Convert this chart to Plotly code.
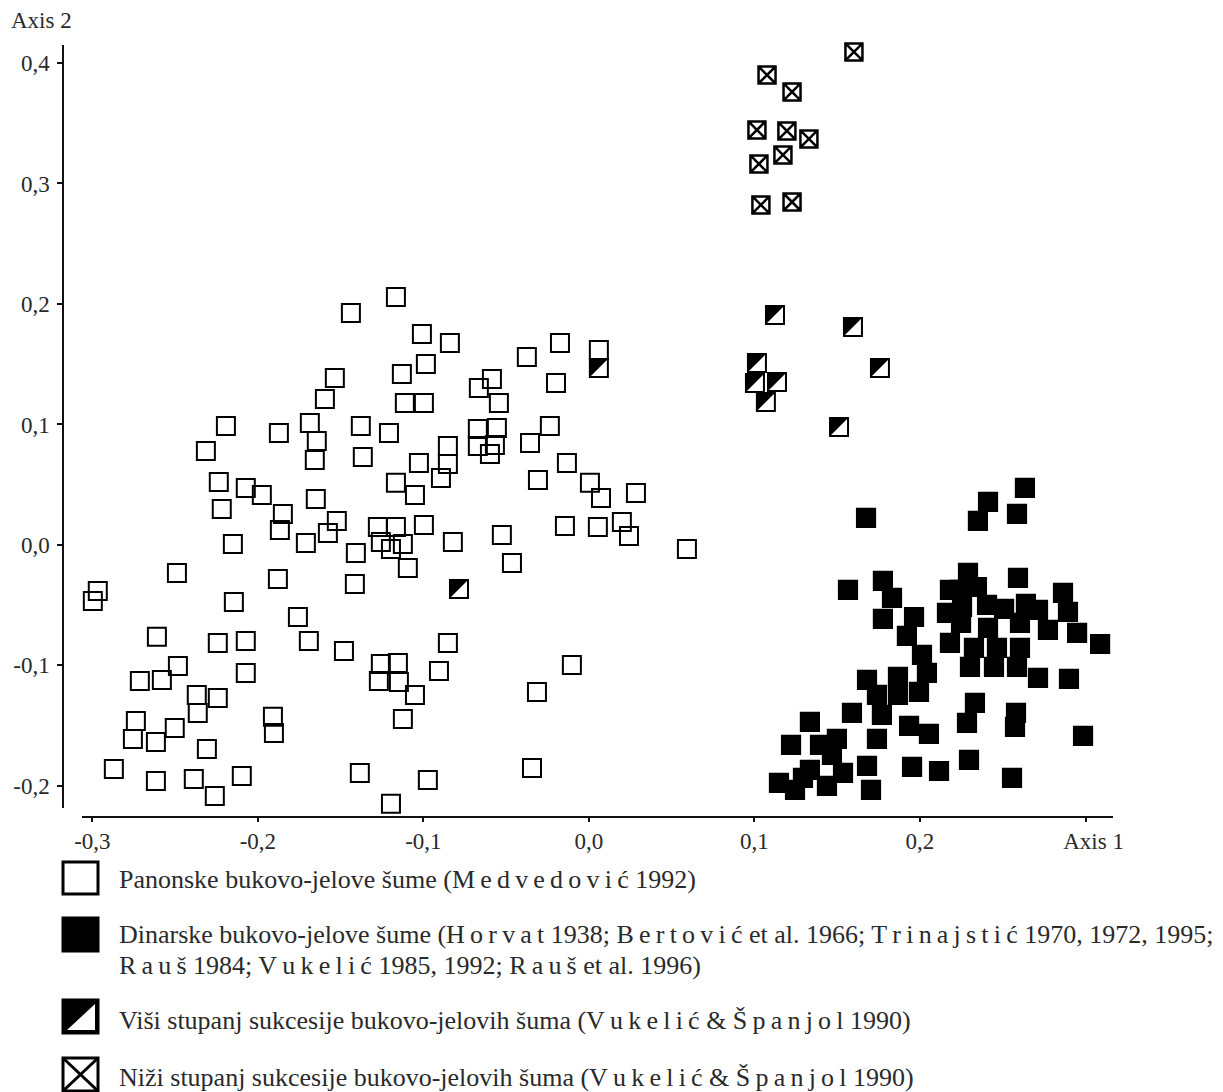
import plotly.graph_objects as go

# ---------------- data ----------------
panon_x = [-0.1166, -0.1438, -0.1009, -0.0840, -0.0985, -0.1130, -0.1535, -0.1595, -0.1112, -0.0997,
           -0.1686, -0.1378, -0.1208, -0.1644, -0.1656, -0.1366, -0.0852, -0.0852, -0.1027, -0.0894,
           -0.1166, -0.1051, -0.1650, -0.1523, -0.1577, -0.1710, -0.1408, -0.1275, -0.1166, -0.1257,
           -0.1124, -0.1196, -0.0997, -0.0822, -0.1094, -0.0526, -0.0465, -0.0665, -0.0586, -0.0544,
           -0.0671, -0.0556, -0.0671, -0.0568, -0.0598, -0.0375, -0.0175, -0.0199, 0.0060, -0.0236,
           -0.0356, -0.0133, -0.0308, 0.0006, 0.0073, 0.0284, -0.0145, 0.0054, 0.0199, 0.0242,
           0.0592, -0.2193, -0.2314, -0.1873, -0.2236, -0.2073, -0.1976, -0.2218, -0.1849, -0.1867,
           -0.2151, -0.2489, -0.2967, -0.2997, -0.2145, -0.1879, -0.1414, -0.1758, -0.2610, -0.2242,
           -0.2073, -0.1692, -0.1480, -0.2483, -0.2713, -0.2580, -0.2073, -0.2369, -0.2242, -0.2363,
           -0.2737, -0.2755, -0.2502, -0.2616, -0.1909, -0.1903, -0.2308, -0.2870, -0.2616, -0.2387,
           -0.2260, -0.2097, -0.1384, -0.1196, -0.1257, -0.1154, -0.1269, -0.1148, -0.1051, -0.0906,
           -0.0852, -0.1124, -0.0103, -0.0314, -0.0973, -0.0344]
panon_y = [0.2058, 0.1925, 0.1751, 0.1676, 0.1502, 0.1419, 0.1386, 0.1212, 0.1178, 0.1178,
           0.1012, 0.0988, 0.0929, 0.0863, 0.0705, 0.0730, 0.0822, 0.0672, 0.0680, 0.0556,
           0.0515, 0.0415, 0.0382, 0.0199, 0.0100, 0.0017, -0.0066, 0.0149, 0.0149, 0.0025,
           0.0008, -0.0033, 0.0166, 0.0025, -0.0191, 0.0083, -0.0149, 0.1303, 0.1378, 0.1178,
           0.0963, 0.0971, 0.0822, 0.0830, 0.0755, 0.1560, 0.1676, 0.1344, 0.1618, 0.0988,
           0.0846, 0.0680, 0.0539, 0.0515, 0.0390, 0.0432, 0.0158, 0.0149, 0.0191, 0.0075,
           -0.0033, 0.0988, 0.0780, 0.0929, 0.0523, 0.0473, 0.0415, 0.0299, 0.0257, 0.0124,
           0.0008, -0.0232, -0.0382, -0.0465, -0.0473, -0.0282, -0.0324, -0.0598, -0.0763, -0.0813,
           -0.0797, -0.0797, -0.0880, -0.1004, -0.1129, -0.1120, -0.1062, -0.1245, -0.1270, -0.1394,
           -0.1461, -0.1610, -0.1519, -0.1635, -0.1427, -0.1560, -0.1693, -0.1859, -0.1959, -0.1942,
           -0.2083, -0.1917, -0.1892, -0.2149, -0.0988, -0.0979, -0.1129, -0.1137, -0.1245, -0.1046,
           -0.0813, -0.1444, -0.0996, -0.1220, -0.1950, -0.1851]

dinar_x = [0.2634, 0.2411, 0.2350, 0.2586, 0.1674, 0.1565, 0.1776, 0.1831, 0.1776, 0.1964,
           0.1921, 0.2012, 0.2042, 0.1680, 0.1867, 0.1740, 0.1867, 0.1994, 0.1589, 0.1770,
           0.1335, 0.1934, 0.2054, 0.1221, 0.1396, 0.1498, 0.1740, 0.1468, 0.1680, 0.1335,
           0.1293, 0.1535, 0.1148, 0.1438, 0.1245, 0.1704, 0.1952, 0.2115, 0.2296, 0.2284,
           0.2332, 0.2580, 0.2574, 0.2556, 0.2985, 0.2713, 0.2900, 0.2290, 0.2181, 0.2242,
           0.2344, 0.2163, 0.2254, 0.2248, 0.2405, 0.2508, 0.2592, 0.2640, 0.2713, 0.2604,
           0.2411, 0.2773, 0.2864, 0.2894, 0.2949, 0.3088, 0.2181, 0.2326, 0.2465, 0.2604,
           0.2302, 0.2447, 0.2586]
dinar_y = [0.0473, 0.0357, 0.0199, 0.0257, 0.0224, -0.0373, -0.0299, -0.0440, -0.0614, -0.0598,
           -0.0755, -0.0913, -0.1062, -0.1120, -0.1095, -0.1245, -0.1245, -0.1220, -0.1394, -0.1411,
           -0.1469, -0.1502, -0.1568, -0.1660, -0.1660, -0.1610, -0.1610, -0.1743, -0.1834, -0.1867,
           -0.1934, -0.1892, -0.1975, -0.2000, -0.2033, -0.2033, -0.1842, -0.1876, -0.1784, -0.1477,
           -0.1311, -0.1394, -0.1510, -0.1934, -0.1585, -0.1104, -0.1112, -0.0232, -0.0373, -0.0373,
           -0.0349, -0.0564, -0.0515, -0.0647, -0.0498, -0.0531, -0.0274, -0.0490, -0.0539, -0.0647,
           -0.0689, -0.0705, -0.0398, -0.0556, -0.0730, -0.0822, -0.0813, -0.0855, -0.0855, -0.0855,
           -0.1012, -0.1012, -0.1012]

visi_x = [0.1124, 0.1595, 0.1015, 0.1758, 0.1003, 0.1136, 0.1069, 0.1511, 0.0060, -0.0785]
visi_y = [0.1909, 0.1809, 0.1510, 0.1469, 0.1344, 0.1353, 0.1187, 0.0979, 0.1469, -0.0365]

nizi_x = [0.1601, 0.1076, 0.1227, 0.1015, 0.1196, 0.1329, 0.1172, 0.1027, 0.1039, 0.1227]
nizi_y = [0.4091, 0.3900, 0.3759, 0.3444, 0.3436, 0.3369, 0.3237, 0.3162, 0.2822, 0.2846]

x_tick_vals = [-0.3, -0.2, -0.1, 0.0, 0.1, 0.2, 0.3]
x_tick_text = ["-0,3", "-0,2", "-0,1", "0,0", "0,1", "0,2", "\u2002\u2009Axis 1"]
y_tick_vals = [-0.2, -0.1, 0.0, 0.1, 0.2, 0.3, 0.4]
y_tick_text = ["-0,2", "-0,1", "0,0", "0,1", "0,2", "0,3", "0,4"]

def spaced(word):
    return "\u2009".join(word)

legend_texts = [
    "Panonske bukovo-jelove šume (" + spaced("Medvedović") + " 1992)",
    "Dinarske bukovo-jelove šume (" + spaced("Horvat") + " 1938; " + spaced("Bertović")
    + " et al. 1966; " + spaced("Trinajstić") + " 1970, 1972, 1995;",
    spaced("Rauš") + " 1984; " + spaced("Vukelić") + " 1985, 1992; " + spaced("Rauš") + " et al. 1996)",
    "Viši stupanj sukcesije bukovo-jelovih šuma (" + spaced("Vukelić") + " & " + spaced("Španjol") + " 1990)",
    "Niži stupanj sukcesije bukovo-jelovih šuma (" + spaced("Vukelić") + " & " + spaced("Španjol") + " 1990)",
]

# ---------------- geometry / style ----------------
OFF = 8                      # page body margin of the browser
FIG_W, FIG_H = 1223 - OFF, 1092 - OFF
M_L, M_R, M_T, M_B = 63 - OFF, 110, 45 - OFF, 275
PLOT_W = FIG_W - M_L - M_R
PLOT_H = FIG_H - M_T - M_B
X_DOMAIN = [0.018, 1.0]
Y_DOMAIN = [0.0117, 1.0]
X_RANGE = [-0.3063, 0.3166]
Y_RANGE = [-0.2183, 0.4149]
X_PER_PX = (X_RANGE[1] - X_RANGE[0]) / (PLOT_W * (X_DOMAIN[1] - X_DOMAIN[0]))
Y_PER_PX = (Y_RANGE[1] - Y_RANGE[0]) / (PLOT_H * (Y_DOMAIN[1] - Y_DOMAIN[0]))

FONT = "Liberation Serif"
TXT = "#2a2a2a"
SQ = 18        # square marker path size (px)
LW = 2         # outline width

def px_x(p):
    """page pixel (reference) -> paper x"""
    return (p - OFF - M_L) / PLOT_W

def px_y(p):
    """page pixel (reference) -> paper y"""
    return (FIG_H - M_B - (p - OFF)) / PLOT_H

fig = go.Figure()

fig.add_trace(go.Scatter(x=panon_x, y=panon_y, mode="markers", name="Panonske", cliponaxis=False,
                         marker=dict(symbol="square", size=SQ, color="rgba(0,0,0,0)",
                                     line=dict(color="black", width=LW))))
fig.add_trace(go.Scatter(x=dinar_x, y=dinar_y, mode="markers", name="Dinarske", cliponaxis=False,
                         marker=dict(symbol="square", size=19, color="black",
                                     line=dict(color="black", width=1.2))))
fig.add_trace(go.Scatter(x=nizi_x, y=nizi_y, mode="markers", name="Niži", cliponaxis=False,
                         marker=dict(symbol="square-x-open", size=17, color="black",
                                     line=dict(color="black", width=2.5))))
# half-filled squares: white square + black upper-left triangle
fig.add_trace(go.Scatter(x=visi_x, y=visi_y, mode="markers", name="Viši", cliponaxis=False,
                         marker=dict(symbol="square", size=SQ, color="white",
                                     line=dict(color="black", width=LW))))
tri_dx = -(SQ / 2 - 0.6 * SQ / 1.8) * X_PER_PX
tri_dy = (SQ / 2 - 0.6 * SQ / 1.8) * Y_PER_PX
fig.add_trace(go.Scatter(x=[v + tri_dx for v in visi_x], y=[v + tri_dy for v in visi_y],
                         mode="markers", name="Viši (fill)", cliponaxis=False,
                         marker=dict(symbol="triangle-nw", size=SQ / 0.9, color="black",
                                     line=dict(width=0))))

# ---------------- legend (drawn below the plot) ----------------
shapes = []
keys = [(862, 894), (918, 951), (1000, 1033), (1058, 1091)]
kx0, kx1 = px_x(63), px_x(98)
for i, (t, b) in enumerate(keys):
    y0, y1 = px_y(b), px_y(t)
    if i == 0:
        shapes.append(dict(type="rect", xref="paper", yref="paper", x0=kx0, x1=kx1, y0=y0, y1=y1,
                           line=dict(color="black", width=3), fillcolor="white"))
    elif i == 1:
        shapes.append(dict(type="rect", xref="paper", yref="paper", x0=kx0, x1=kx1, y0=y0, y1=y1,
                           line=dict(color="black", width=3), fillcolor="black"))
    elif i == 2:
        shapes.append(dict(type="rect", xref="paper", yref="paper", x0=kx0, x1=kx1, y0=y0, y1=y1,
                           line=dict(color="black", width=3), fillcolor="black"))
        ax0, ax1 = px_x(67), px_x(95)
        ay0, ay1 = px_y(b - 3), px_y(t + 4)
        shapes.append(dict(type="path", xref="paper", yref="paper",
                           path=f"M {ax0},{ay0} L {ax1},{ay0} L {ax1},{ay1} Z",
                           line=dict(width=0), fillcolor="white"))
    else:
        shapes.append(dict(type="rect", xref="paper", yref="paper", x0=kx0, x1=kx1, y0=y0, y1=y1,
                           line=dict(color="black", width=3), fillcolor="white"))
        shapes.append(dict(type="line", xref="paper", yref="paper", x0=kx0, x1=kx1, y0=y0, y1=y1,
                           line=dict(color="black", width=3)))
        shapes.append(dict(type="line", xref="paper", yref="paper", x0=kx0, x1=kx1, y0=y1, y1=y0,
                           line=dict(color="black", width=3)))

annotations = []
text_rows = [879, 934, 965, 1020, 1077]
for txt, row in zip(legend_texts, text_rows):
    annotations.append(dict(text=txt, xref="paper", yref="paper", x=px_x(117), y=px_y(row),
                            xanchor="left", yanchor="middle", showarrow=False,
                            font=dict(family=FONT, size=26, color=TXT)))
annotations.append(dict(text="Axis 2", xref="paper", yref="paper", x=px_x(9), y=px_y(20),
                        xanchor="left", yanchor="middle", showarrow=False,
                        font=dict(family=FONT, size=23, color=TXT)))

fig.update_layout(
    width=FIG_W, height=FIG_H,
    margin=dict(l=M_L, r=M_R, t=M_T, b=M_B, autoexpand=False),
    paper_bgcolor="white", plot_bgcolor="white",
    showlegend=False,
    font=dict(family=FONT, size=23, color=TXT),
    shapes=shapes, annotations=annotations,
    xaxis=dict(domain=X_DOMAIN, range=X_RANGE, anchor="free", position=0, automargin=False,
               showgrid=False, zeroline=False, showline=True, linecolor="#111", linewidth=1.5,
               tickmode="array", tickvals=x_tick_vals, ticktext=x_tick_text,
               ticks="outside", ticklen=4, tickcolor="#111", tickwidth=1.5,
               tickfont=dict(family=FONT, size=23, color=TXT)),
    yaxis=dict(domain=Y_DOMAIN, range=Y_RANGE, anchor="free", position=0, automargin=False,
               showgrid=False, zeroline=False, showline=True, linecolor="#111", linewidth=1.5,
               tickmode="array", tickvals=y_tick_vals, ticktext=y_tick_text,
               ticks="outside", ticklen=5, tickcolor="#111", tickwidth=1.5,
               ticklabelstandoff=3,
               tickfont=dict(family=FONT, size=23, color=TXT)),
)

fig.write_html("out.html")
